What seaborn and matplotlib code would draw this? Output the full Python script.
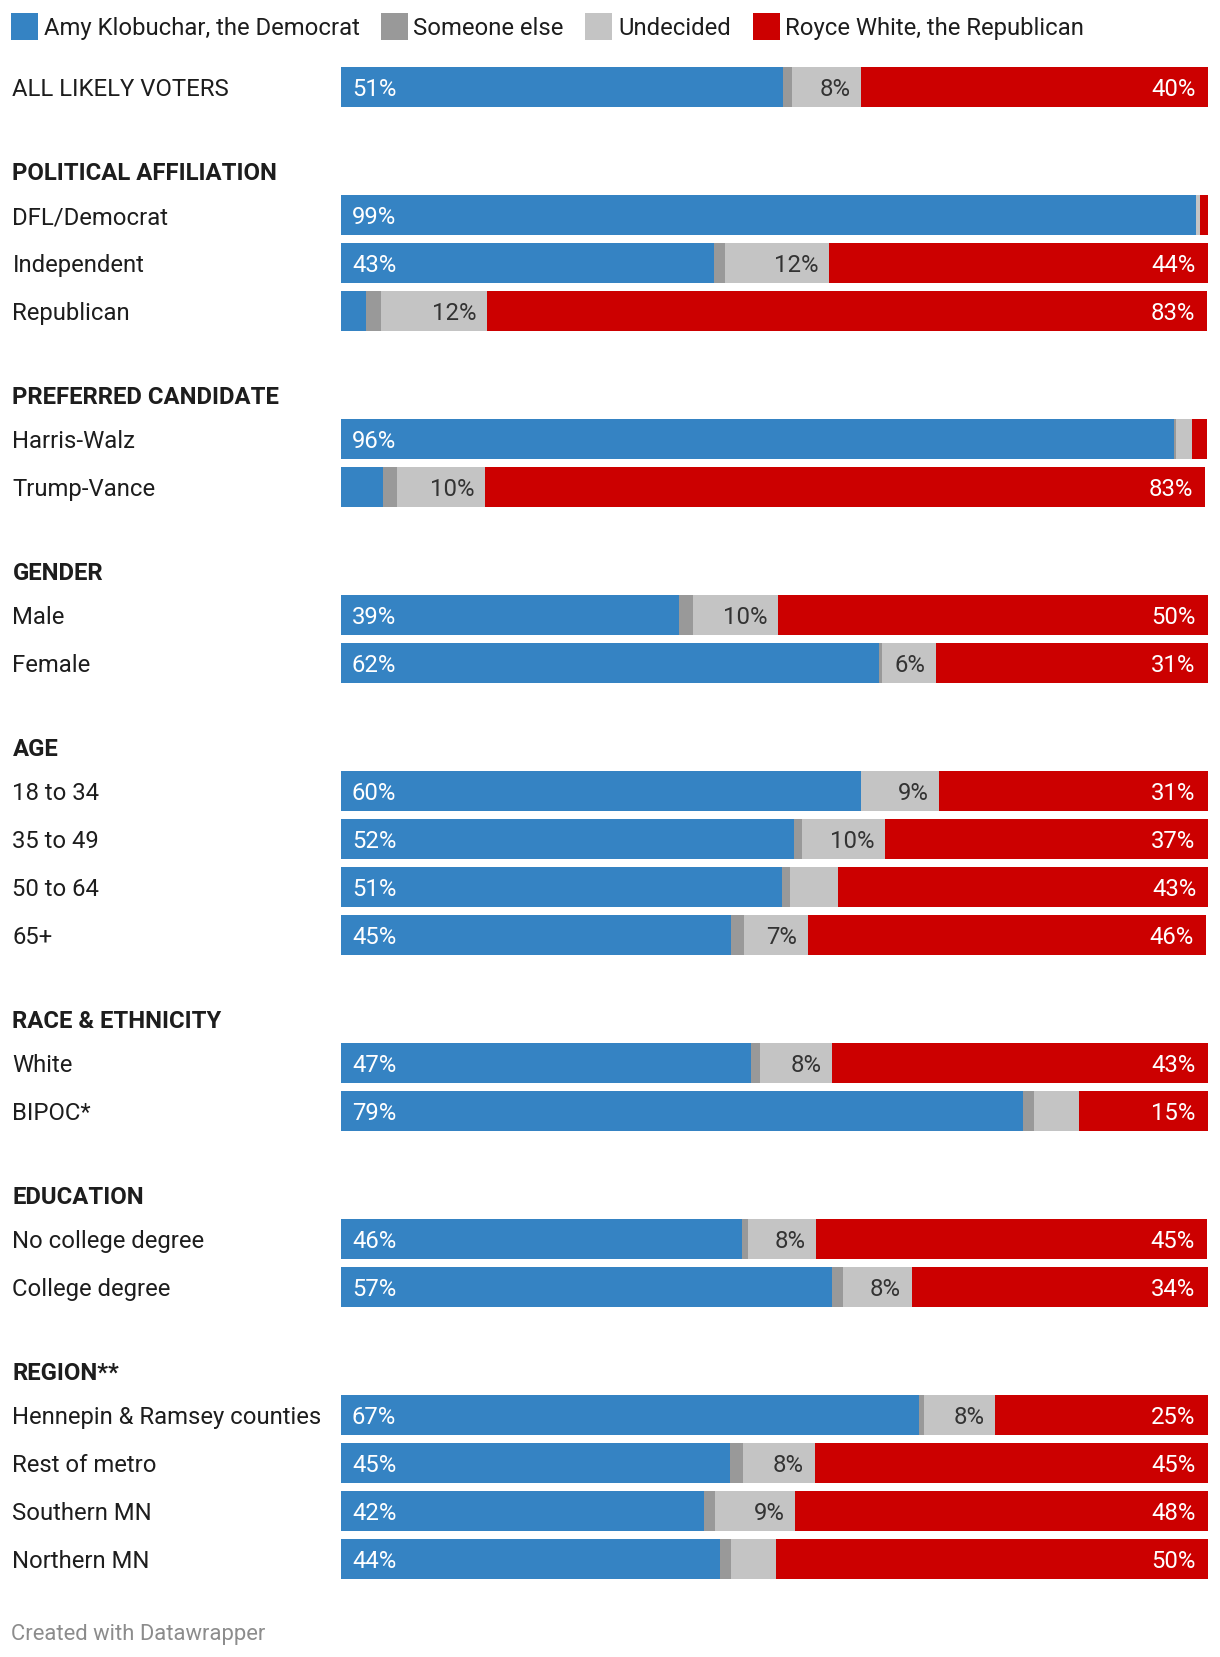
import numpy as np
import pandas as pd
import matplotlib.pyplot as plt
from matplotlib.patches import Rectangle
import seaborn as sns

# -------------------------------
# Poll data (percent)
rows = [
    "ALL LIKELY VOTERS",
    "DFL/Democrat", "Independent", "Republican",
    "Harris-Walz", "Trump-Vance",
    "Male", "Female",
    "18 to 34", "35 to 49", "50 to 64", "65+",
    "White", "BIPOC*",
    "No college degree", "College degree",
    "Hennepin & Ramsey counties", "Rest of metro", "Southern MN", "Northern MN",
]
groups = [
    "",
    "POLITICAL AFFILIATION", "POLITICAL AFFILIATION", "POLITICAL AFFILIATION",
    "PREFERRED CANDIDATE", "PREFERRED CANDIDATE",
    "GENDER", "GENDER",
    "AGE", "AGE", "AGE", "AGE",
    "RACE & ETHNICITY", "RACE & ETHNICITY",
    "EDUCATION", "EDUCATION",
    "REGION**", "REGION**", "REGION**", "REGION**",
]
klobuchar = [51, 98.6, 43, 2.8, 96.1, 4.8, 39, 62, 60, 52.2, 50.9, 45,
             47.3, 78.7, 46.2, 56.6, 66.6, 44.8, 41.8, 43.7]
someone_else = [1, 0, 1.3, 1.8, 0.2, 1.6, 1.6, 0.4, 0, 0.9, 0.9, 1.5,
                1.0, 1.2, 0.7, 1.3, 0.6, 1.5, 1.3, 1.3]
undecided = [8, 0.5, 12, 12.2, 1.8, 10.2, 9.8, 6.2, 9, 9.6, 5.5, 7.3,
             8.3, 5.2, 7.9, 7.9, 8.2, 8.3, 9.3, 5.1]
white_r = [40, 0.9, 43.7, 83.1, 1.8, 83.1, 49.6, 31.4, 31, 37.3, 42.8, 46,
           43.4, 14.9, 45.1, 34.2, 24.6, 45.4, 47.6, 49.9]

series_names = ["Amy Klobuchar, the Democrat", "Someone else", "Undecided",
                "Royce White, the Republican"]
colors = ["#3583c3", "#999999", "#c4c4c4", "#cc0000"]

# -------------------------------
# Layout (pixel units, figure is 1220 x 1658)
W, H = 1220, 1658
bar_left, bar_right = 341.4, 1208
bar_h = 40
ypos, headers = [], []
y = 87.7
for i, g in enumerate(groups):
    if i > 0:
        if g != groups[i - 1]:
            hy = y + 83.7
            headers.append((g, hy))
            y = hy + 44.3
        else:
            y += 48.0
    ypos.append(y)

df = pd.DataFrame({"row": rows, "y": ypos, "blue": klobuchar, "dark": someone_else,
                   "light": undecided, "red": white_r})
df["c_blue"] = df["blue"]
df["c_dark"] = df["c_blue"] + df["dark"]
df["c_light"] = df["c_dark"] + df["light"]
df["c_red"] = df["c_light"] + df["red"]

plt.rcParams["font.family"] = ["Roboto", "DejaVu Sans"]
fig = plt.figure(figsize=(W / 100, H / 100), dpi=100)
ax = fig.add_axes([bar_left / W, 0, (bar_right - bar_left) / W, 1])

step = np.diff(sorted(ypos)).min()
# stacked bars: draw cumulative totals from widest to narrowest
for col, c in zip(["c_red", "c_light", "c_dark", "c_blue"], colors[::-1]):
    sns.barplot(data=df, x=col, y="y", orient="h", native_scale=True,
                width=bar_h / step, color=c, saturation=1, errorbar=None,
                linewidth=0, edgecolor="none", ax=ax)

ax.set_xlim(0, 100)
ax.set_ylim(H, 0)
ax.axis("off")

fs = 17.2
px = 100 / (bar_right - bar_left)  # percent per pixel
pad = 10.5 * px
pad_red = 12.5 * px
base = 8.5  # baseline offset from row center

for _, r in df.iterrows():
    yb = r["y"] + base
    if r["blue"] >= 10:
        ax.text(pad, yb, f"{r['blue']:.0f}%", color="white", fontsize=fs,
                ha="left", va="baseline")
    if r["light"] >= 6:
        ax.text(r["c_light"] - pad, yb, f"{r['light']:.0f}%", color="#333333",
                fontsize=fs, ha="right", va="baseline")
    if r["red"] >= 10:
        ax.text(r["c_red"] - pad_red, yb, f"{r['red']:.0f}%", color="white",
                fontsize=fs, ha="right", va="baseline")
    fig.text(12.5 / W, 1 - yb / H, r["row"], color="#1d1d1d", fontsize=fs,
             ha="left", va="baseline")

for g, hy in headers:
    fig.text(12.5 / W, 1 - (hy + base) / H, g, color="#1d1d1d", fontsize=fs,
             fontweight="bold", ha="left", va="baseline")

# legend
leg_sq = [10.6, 380.5, 584.6, 752.6]
leg_tx = [44.4, 413.3, 618.4, 785.4]
for name, c, sx, tx in zip(series_names, colors, leg_sq, leg_tx):
    fig.add_artist(Rectangle((sx / W, 1 - 41 / H), 27 / W, 27 / H,
                             transform=fig.transFigure, color=c, lw=0))
    fig.text(tx / W, 1 - (26.8 + base) / H, name, color="#1d1d1d", fontsize=fs,
             ha="left", va="baseline")

fig.text(10.6 / W, 1 - (1632 + base) / H, "Created with Datawrapper",
         color="#8c8c8c", fontsize=15.8, ha="left", va="baseline")

plt.savefig("out.png", dpi=100)
